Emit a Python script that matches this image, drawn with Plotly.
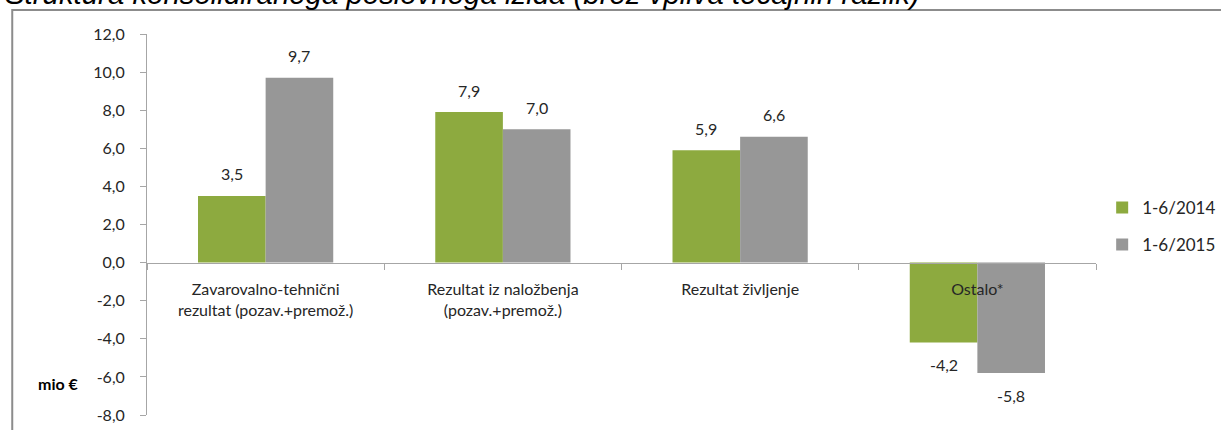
import plotly.graph_objects as go

categories = ["Zavarovalno-tehnični<br>rezultat (pozav.+premož.)",
              "Rezultat iz naložbenja<br>(pozav.+premož.)",
              "Rezultat življenje",
              "Ostalo*"]
series_2014 = [3.5, 7.9, 5.9, -4.2]
series_2015 = [9.7, 7.0, 6.6, -5.8]
name_2014 = "1-6/2014"
name_2015 = "1-6/2015"
y_ticks = [-8, -6, -4, -2, 0, 2, 4, 6, 8, 10, 12]
y_ticktext = [f"{v:.1f}".replace(".", ",") for v in y_ticks]
title_text = "Struktura konsolidiranega poslovnega izida (brez vpliva tečajnih razlik)"
unit_text = "mio €"

FONT = "Lato"
TXT = "#262626"
W, H = 1221, 430
ML, MR, MT, MB = 147, 125, 34, 15
BARGAP = 0.43
LABEL_GAP = 22

fig = go.Figure()
series = [(name_2014, series_2014, "#8DAA3F"), (name_2015, series_2015, "#979797")]
for i, (nm, vals, col) in enumerate(series):
    fig.add_trace(go.Bar(x=categories, y=vals, name=nm, legendgroup=nm,
                         marker_color=col, marker_line_width=0))

# data labels placed relative to each bar end
plot_w = W - ML - MR
bar_w = plot_w / len(categories) * (1 - BARGAP) / len(series)
for i, (nm, vals, col) in enumerate(series):
    xoff = (i - (len(series) - 1) / 2) * bar_w
    for c, v in zip(categories, vals):
        fig.add_annotation(x=c, y=v, xref="x", yref="y", showarrow=False,
                           text=f"{v:.1f}".replace(".", ","),
                           xshift=xoff, yshift=LABEL_GAP if v >= 0 else -LABEL_GAP,
                           xanchor="center", yanchor="middle",
                           font=dict(family=FONT, size=16, color=TXT))

fig.update_layout(
    width=W, height=H,
    margin=dict(l=ML, r=MR, t=MT, b=MB, autoexpand=False),
    paper_bgcolor="white", plot_bgcolor="white",
    barmode="group", bargap=BARGAP, bargroupgap=0,
    font=dict(family=FONT, size=16, color=TXT),
    showlegend=True,
    legend=dict(x=1.0065, y=0.495, xanchor="left", yanchor="middle",
                font=dict(family=FONT, size=17, color=TXT), traceorder="grouped",
                itemsizing="constant", tracegroupgap=12, bgcolor="rgba(0,0,0,0)"),
    xaxis=dict(anchor="free", position=0.4, showline=True, linecolor="#A6A6A6",
               linewidth=1, ticks="outside", tickson="boundaries", ticklen=6,
               tickcolor="#A6A6A6", showgrid=False, tickfont=dict(size=16, color=TXT),
               layer="above traces", automargin=False, ticklabelstandoff=12),
    yaxis=dict(range=[-8, 12], tickvals=y_ticks, ticktext=y_ticktext, showgrid=False,
               zeroline=False, showline=True, linecolor="#A6A6A6", linewidth=1,
               ticks="outside", ticklen=6, tickcolor="#A6A6A6", automargin=False,
               ticklabelstandoff=12, tickfont=dict(size=16, color=TXT)),
)

fig.add_shape(type="rect", xref="paper", yref="paper",
              x0=-0.142, x1=1.2, y0=-0.2, y1=1.063,
              line=dict(color="#8C8C8C", width=2), fillcolor="rgba(0,0,0,0)", layer="below")

fig.add_annotation(text=f"<b>{unit_text}</b>", xref="paper", yref="paper",
                   x=-0.093, y=0.082, showarrow=False, xanchor="center", yanchor="middle",
                   font=dict(family=FONT, size=16, color="#000000"))
fig.add_annotation(text=f"<i>{title_text}</i>", xref="paper", yref="paper",
                   x=-0.152, y=1.057, xanchor="left", yanchor="bottom", showarrow=False,
                   font=dict(family="Liberation Sans", size=29.4, color="#000000"))

fig.write_html("out.html", config={"displayModeBar": False},
               post_script="document.body.style.margin='0';")
